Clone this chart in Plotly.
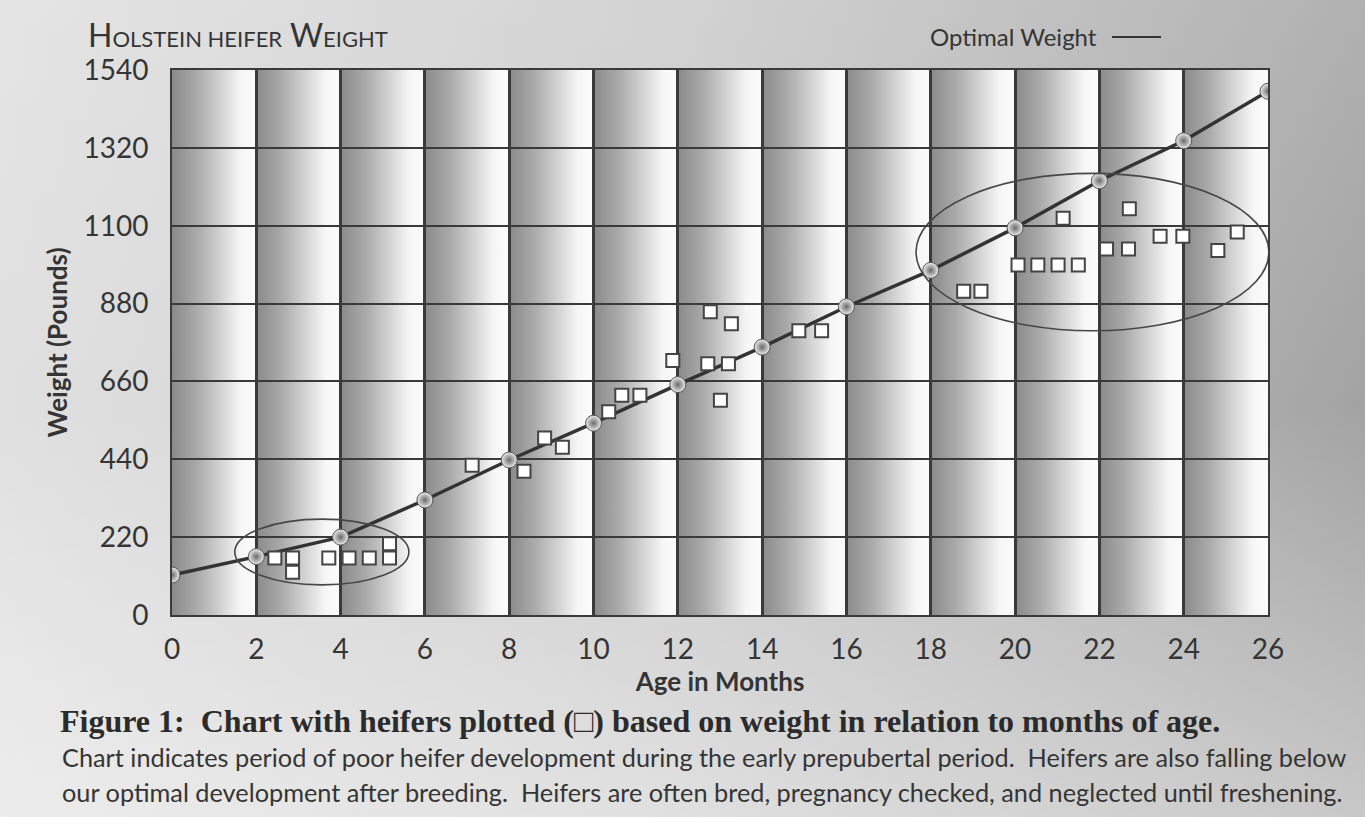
import base64
import plotly.graph_objects as go

# ---------------- data ----------------
optimal_age = [0, 2, 4, 6, 8, 10, 12, 14, 16, 18, 20, 22, 24, 26]
optimal_weight = [113, 165, 220, 325, 438, 542, 651, 757, 871, 974, 1094, 1227, 1340, 1480]

heifer_age = [2.44, 2.86, 2.86, 3.72, 4.20, 4.68, 5.16, 5.16,
              7.12, 8.35, 8.84, 9.26, 10.36, 10.67, 11.10, 11.88,
              12.71, 13.20, 13.01, 12.77, 13.27, 14.87, 15.41,
              18.78, 19.19, 20.07, 20.54, 21.02, 21.50, 21.14,
              22.17, 22.69, 22.71, 23.44, 23.98, 24.81, 25.27]
heifer_weight = [161, 161, 121, 161, 161, 161, 201, 161,
                 423, 406, 500, 474, 574, 621, 621, 719,
                 710, 710, 607, 857, 823, 803, 803,
                 915, 915, 989, 989, 989, 989, 1121,
                 1034, 1034, 1148, 1070, 1070, 1030, 1082]

x_ticks = list(range(0, 27, 2))
y_ticks = [0, 220, 440, 660, 880, 1100, 1320, 1540]

# circled groups (age range, weight range)
ellipse_small = dict(x0=1.49, x1=5.62, y0=85, y1=271)
ellipse_large = dict(x0=17.65, x1=26.02, y0=803, y1=1248)

title_text = ("H<span style='font-size:22px'>OLSTEIN HEIFER</span> "
              "W<span style='font-size:22px'>EIGHT</span>")
legend_text = "Optimal Weight"
caption_1 = "Figure 1:  Chart with heifers plotted (\u25a1) based on weight in relation to months of age."
caption_2 = ("Chart indicates period of poor heifer development during the early prepubertal period.  "
             "Heifers are also falling below")
caption_3 = ("our optimal development after breeding.  Heifers are often bred, pregnancy checked, "
             "and neglected until freshening.")

# ---------------- layout geometry ----------------
W, H = 1365, 817
L, R, T, B = 172, 1268, 70, 615
PW, PH = R - L, B - T


def px(xp):
    return (xp - L) / PW


def py(yp):
    return (B - yp) / PH


FONT = "Lato, 'Open Sans', sans-serif"
INK = "#353535"

# ---------------- background images (SVG gradients) ----------------
page_svg = f'''<svg xmlns="http://www.w3.org/2000/svg" width="{W}" height="{H}" viewBox="0 0 {W} {H}" preserveAspectRatio="none">
<defs>
<linearGradient id="h" x1="0" y1="0" x2="1" y2="0">
<stop offset="0" stop-color="#e0e0e0"/><stop offset="0.5" stop-color="#cbcbcb"/><stop offset="0.85" stop-color="#b0b0b0"/><stop offset="1" stop-color="#a3a3a3"/>
</linearGradient>
<linearGradient id="v" x1="0" y1="0" x2="0" y2="1">
<stop offset="0" stop-color="#ffffff" stop-opacity="0.15"/><stop offset="0.5" stop-color="#ffffff" stop-opacity="0"/><stop offset="1" stop-color="#ffffff" stop-opacity="0.4"/>
</linearGradient>
</defs>
<rect width="{W}" height="{H}" fill="url(#h)"/><rect width="{W}" height="{H}" fill="url(#v)"/>
</svg>'''

n_bands = len(x_ticks) - 1
rects = "".join(f'<rect x="{2*i}" y="0" width="2" height="1" fill="url(#g)"/>' for i in range(n_bands))
band_svg = f'''<svg xmlns="http://www.w3.org/2000/svg" width="2600" height="1000" viewBox="0 0 {2*n_bands} 1" preserveAspectRatio="none">
<defs>
<linearGradient id="g" x1="0" y1="0" x2="1" y2="0">
<stop offset="0" stop-color="#8a8a8a"/><stop offset="0.3" stop-color="#aaaaaa"/><stop offset="0.6" stop-color="#d6d6d6"/><stop offset="0.82" stop-color="#f6f6f6"/><stop offset="1" stop-color="#fcfcfc"/>
</linearGradient>
</defs>
{rects}
</svg>'''


def uri(svg):
    return "data:image/svg+xml;base64," + base64.b64encode(svg.encode()).decode()


fig = go.Figure()

fig.add_trace(go.Scatter(
    x=optimal_age, y=optimal_weight, mode="lines+markers", name="Optimal Weight",
    line=dict(color="#333333", width=3.5),
    marker=dict(size=16, color="#ececec", gradient=dict(type="radial", color="#6a6a6a"),
                line=dict(color="#555555", width=1)),
    showlegend=False,
))
fig.add_trace(go.Scatter(
    x=heifer_age, y=heifer_weight, mode="markers", name="Heifers",
    marker=dict(symbol="square", size=13, color="white", line=dict(color="#444444", width=2)),
    showlegend=False,
))

shapes = []
for e in (ellipse_small, ellipse_large):
    shapes.append(dict(type="circle", xref="x", yref="y", layer="above",
                       line=dict(color="#474747", width=1.6), **e))
# legend line sample
shapes.append(dict(type="line", xref="paper", yref="paper", x0=px(1112), x1=px(1161),
                   y0=py(37), y1=py(37), line=dict(color="#333333", width=2)))

images = [
    dict(source=uri(page_svg), xref="paper", yref="paper", x=px(0), y=py(0),
         sizex=W / PW, sizey=H / PH, xanchor="left", yanchor="top",
         sizing="stretch", layer="below"),
    dict(source=uri(band_svg), xref="x", yref="y", x=0, y=1540, sizex=26, sizey=1540,
         xanchor="left", yanchor="top", sizing="stretch", layer="below"),
]

annotations = [
    dict(text=title_text, x=px(86), y=py(34), xref="paper", yref="paper", xanchor="left",
         yanchor="middle", showarrow=False, font=dict(family=FONT, size=32, color=INK)),
    dict(text=legend_text, x=px(928), y=py(36), xref="paper", yref="paper", xanchor="left",
         yanchor="middle", showarrow=False, font=dict(family=FONT, size=24, color=INK)),
    dict(text="<b>" + caption_1 + "</b>", x=px(58), y=py(721), xref="paper", yref="paper",
         xanchor="left", yanchor="middle", showarrow=False,
         font=dict(family="'Liberation Serif', 'DejaVu Serif', serif", size=32, color="#2b2b2b")),
    dict(text=caption_2, x=px(60), y=py(757), xref="paper", yref="paper", xanchor="left",
         yanchor="middle", showarrow=False, font=dict(family=FONT, size=25.3, color=INK)),
    dict(text=caption_3, x=px(60), y=py(792), xref="paper", yref="paper", xanchor="left",
         yanchor="middle", showarrow=False, font=dict(family=FONT, size=25.3, color=INK)),
]

fig.update_layout(
    width=W, height=H,
    margin=dict(l=L, r=W - R, t=T, b=H - B, pad=0),
    paper_bgcolor="#d4d4d4", plot_bgcolor="rgba(0,0,0,0)",
    shapes=shapes, images=images, annotations=annotations,
    font=dict(family=FONT, color=INK),
)
fig.update_xaxes(
    range=[0, 26], tickvals=x_ticks, ticktext=[str(v) for v in x_ticks],
    showgrid=True, gridcolor="#3a3a3a", gridwidth=2.5, zeroline=False,
    showline=True, mirror=True, linecolor="#3a3a3a", linewidth=2,
    ticks="outside", ticklen=8, tickcolor="rgba(0,0,0,0)",
    tickfont=dict(family=FONT, size=28, color=INK),
    title=dict(text="<b>Age in Months</b>", font=dict(family=FONT, size=26, color=INK), standoff=0),
)
fig.update_yaxes(
    range=[0, 1540], tickvals=y_ticks, ticktext=[str(v) for v in y_ticks],
    showgrid=True, gridcolor="#3a3a3a", gridwidth=2, zeroline=False,
    showline=True, mirror=True, linecolor="#3a3a3a", linewidth=2,
    ticks="outside", ticklen=16, tickcolor="rgba(0,0,0,0)",
    tickfont=dict(family=FONT, size=28, color=INK),
    title=dict(text="<b>Weight (Pounds)</b>", font=dict(family=FONT, size=26, color=INK), standoff=8),
)

fig.write_html("out.html", config={"displayModeBar": False},
               post_script="document.body.style.margin='0';document.body.style.overflow='hidden';")
